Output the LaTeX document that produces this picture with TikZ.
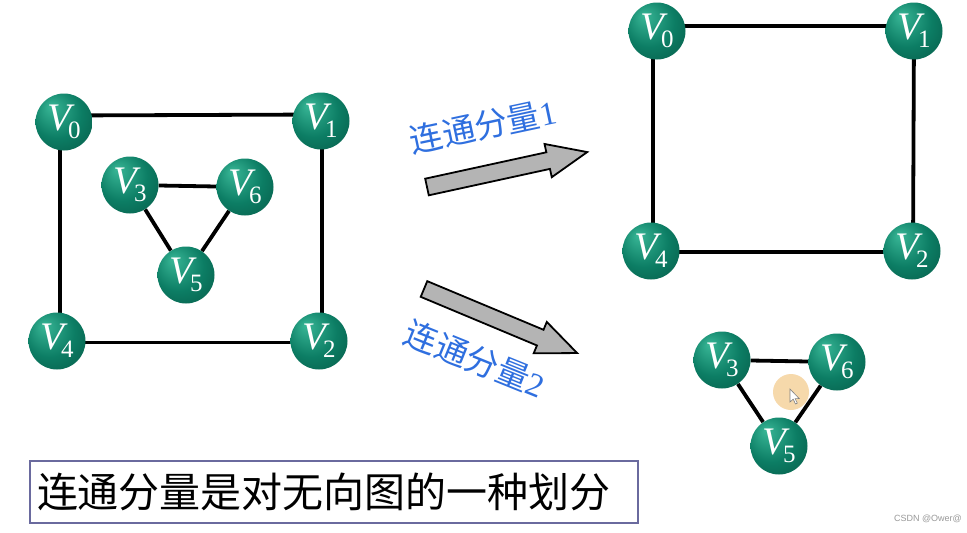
\documentclass[tikz,border=0pt]{standalone}
\usepackage{fontspec}
\setmainfont{Liberation Serif}
\newfontfamily\cjk{Noto Sans CJK SC}
\newfontfamily\wmfont{Liberation Sans}
\usetikzlibrary{backgrounds}
\definecolor{vlight}{HTML}{38B696}
\definecolor{vmid}{HTML}{0C7D64}
\definecolor{vdark}{HTML}{044A3A}
\definecolor{labblue}{HTML}{2F6FDF}
\definecolor{arrowgray}{HTML}{B4B4B4}
\definecolor{boxc}{HTML}{6A6A9E}
\definecolor{hlc}{HTML}{F6D5A2}
\pgfdeclareradialshading{vball}{\pgfpoint{-12bp}{14bp}}{color(0bp)=(vlight); color(22bp)=(vmid); color(50bp)=(vdark)}
\newcommand\vname[1]{{\fontsize{39}{39}\selectfont\itshape V}\kern-3pt\raisebox{-8pt}{\fontsize{25}{25}\selectfont #1}}
\tikzset{
  vtx/.style={circle, minimum size=57pt, inner sep=0pt, shading=vball, text=white},
  edge/.style={line width=3.8pt, black},
  bigarrow/.style={draw=black, line width=1.8pt, fill=arrowgray, line join=miter},
  lab/.style={text=labblue, font=\fontsize{33}{33}\selectfont, inner sep=0pt},
}
\begin{document}
\begin{tikzpicture}[x=1pt,y=-1pt]
\useasboundingbox (0,0) rectangle (967,533);
% left graph
\node[vtx] (a0) at (64,122) {\vname{0}};
\node[vtx] (a1) at (321,121) {\vname{1}};
\node[vtx] (a2) at (319,341) {\vname{2}};
\node[vtx] (a4) at (57,341) {\vname{4}};
\node[vtx] (a3) at (130,185) {\vname{3}};
\node[vtx] (a6) at (245,187) {\vname{6}};
\node[vtx] (a5) at (186,275) {\vname{5}};
% right graph
\node[vtx] (b0) at (657,31) {\vname{0}};
\node[vtx] (b1) at (914,31) {\vname{1}};
\node[vtx] (b2) at (912,251) {\vname{2}};
\node[vtx] (b4) at (651,251) {\vname{4}};
\node[vtx] (b3) at (722,360) {\vname{3}};
\node[vtx] (b6) at (837,362) {\vname{6}};
\node[vtx] (b5) at (779,446) {\vname{5}};
\begin{scope}[on background layer]
  \fill[white] (0,0) rectangle (967,533);
  \draw[edge] ([yshift=6.5pt]a0.center) -- ([yshift=6.5pt]a1.center);
  \draw[edge] ([xshift=-4pt]a0.center) -- ([xshift=3pt]a4.center);
  \draw[edge] ([xshift=1pt]a1.center) -- ([xshift=3pt]a2.center);
  \draw[edge] ([yshift=-1.5pt]a4.center) -- ([yshift=-1.5pt]a2.center);
  \draw[edge] (a3) -- (a6) (a3) -- (a5) (a6) -- (a5);
  \draw[edge] ([yshift=5pt]b0.center) -- ([yshift=5pt]b1.center);
  \draw[edge] ([xshift=-4pt]b0.center) -- ([xshift=2pt]b4.center);
  \draw[edge] (b1.center) -- ([xshift=1pt]b2.center);
  \draw[edge] ([yshift=-1pt]b4.center) -- ([yshift=-1pt]b2.center);
  \draw[edge] (b3) -- (b6) (b3) -- (b5) (b6) -- (b5);
\end{scope}
% arrows
\begin{scope}[shift={(427,187)}, rotate=12.3]
  \draw[bigarrow] (0,-8.5) -- (124,-8.5) -- (124,-17) -- (164,0) -- (124,17) -- (124,8.5) -- (0,8.5) -- cycle;
\end{scope}
\begin{scope}[shift={(424,289)}, rotate=-22.7]
  \draw[bigarrow] (0,-8.5) -- (126,-8.5) -- (126,-17) -- (166,0) -- (126,17) -- (126,8.5) -- (0,8.5) -- cycle;
\end{scope}
\node[lab, rotate=12] (l1) at (483,126) {{\cjk 连通分量}1};
\node[lab, rotate=-22] (l2) at (475,359) {{\cjk 连通分量}2};
% bottom box
\node[draw=boxc, line width=2.6pt, fill=white, minimum height=62pt, inner xsep=7pt, text width=594pt, align=left,
      font=\cjk\fontsize{41}{41}\selectfont] (note) at (334,492) {连通分量是对无向图的一种划分};
% cursor highlight
\node[circle, fill=hlc, fill opacity=0.9, minimum size=36pt, inner sep=0pt] (hl) at (791,392) {};
\coordinate (tip) at (790,389);
\draw[gray, fill=white, line width=0.6pt, shift={(tip)}] (0,0) -- (0,13) -- (3.2,10.2) -- (5.5,15) -- (7.3,14.2) -- (5.1,9.6) -- (9.2,9.6) -- cycle;
% watermark
\node[anchor=east, text=gray!80, font=\wmfont\fontsize{9}{9}\selectfont, inner sep=0pt] (wm) at (962,519) {CSDN @Ower@};
\end{tikzpicture}
\end{document}
